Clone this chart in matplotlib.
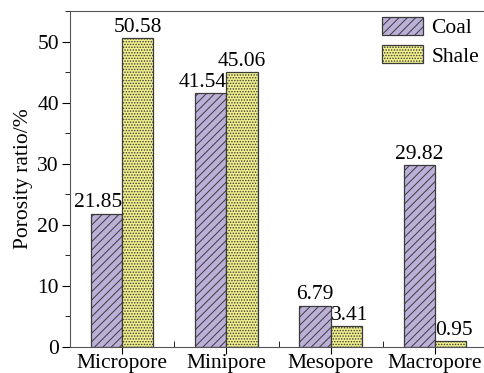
import numpy as np
import matplotlib
matplotlib.use("Agg")
import matplotlib.pyplot as plt
from matplotlib.ticker import MultipleLocator

# pore classes and porosity ratio (%)
categories = ["Micropore", "Minipore", "Mesopore", "Macropore"]
coal = [21.85, 41.54, 6.79, 29.82]
shale = [50.58, 45.06, 3.41, 0.95]
coal_labels = ["21.85", "41.54", "6.79", "29.82"]
shale_labels = ["50.58", "45.06", "3.41", "0.95"]

# how the value labels sit on the bars in the original
coal_align = ['right', 'right', 'center', 'center']
shale_align = ['center', 'center', 'left', 'left']

plt.rcParams['font.family'] = ['Liberation Serif', 'DejaVu Serif']
plt.rcParams['hatch.linewidth'] = 0.7
plt.rcParams['hatch.color'] = '#3a3a3a'

FS = 15.5

fig = plt.figure(figsize=(4.84, 3.73), dpi=100)
ax = fig.add_axes([70/484, 26/373, 417/484, 336/373])

x = np.arange(len(categories))
w = 0.3
ax.bar(x - w/2, coal, w, color='#bdb0d8', edgecolor='#3a3a3a',
       hatch='////', linewidth=0.9, label='Coal')
ax.bar(x + w/2, shale, w, color='#f2f08c', edgecolor='#3a3a3a',
       hatch='......', linewidth=0.9, label='Shale')

def anchor(xc, ha):
    if ha == 'right':
        return xc + w/2
    if ha == 'left':
        return xc - w/2
    return xc

# value labels above each bar
for xi, v, s, ha in zip(x - w/2, coal, coal_labels, coal_align):
    ax.text(anchor(xi, ha), v + 0.2, s, ha=ha, va='bottom', fontsize=FS)
for xi, v, s, ha in zip(x + w/2, shale, shale_labels, shale_align):
    ax.text(anchor(xi, ha), v + 0.2, s, ha=ha, va='bottom', fontsize=FS)

ax.set_xlim(-0.5, 3.5)
ax.set_ylim(0, 55)
ax.set_xticks(x)
ax.set_xticklabels(categories, fontsize=FS)
ax.set_xticks(x[:-1] + 0.5, minor=True)
ax.yaxis.set_major_locator(MultipleLocator(10))
ax.yaxis.set_minor_locator(MultipleLocator(5))
ax.tick_params(axis='y', which='major', direction='out', length=6, labelsize=FS, pad=2)
ax.tick_params(axis='y', which='minor', direction='out', length=3.5)
ax.tick_params(axis='x', which='major', direction='out', length=5, pad=0)
ax.tick_params(axis='x', which='minor', direction='in', length=4)
for sp in ax.spines.values():
    sp.set_color('#555555')
ax.spines['right'].set_visible(False)
ax.set_ylabel('Porosity ratio/%', fontsize=FS, labelpad=3)

ax.legend(loc='upper left', bbox_to_anchor=(0.748, 0.983), frameon=False,
          fontsize=FS, handlelength=1.9, handleheight=0.95,
          labelspacing=0.3, handletextpad=0.4, borderaxespad=0, borderpad=0)

fig.savefig('out.png', dpi=100)
